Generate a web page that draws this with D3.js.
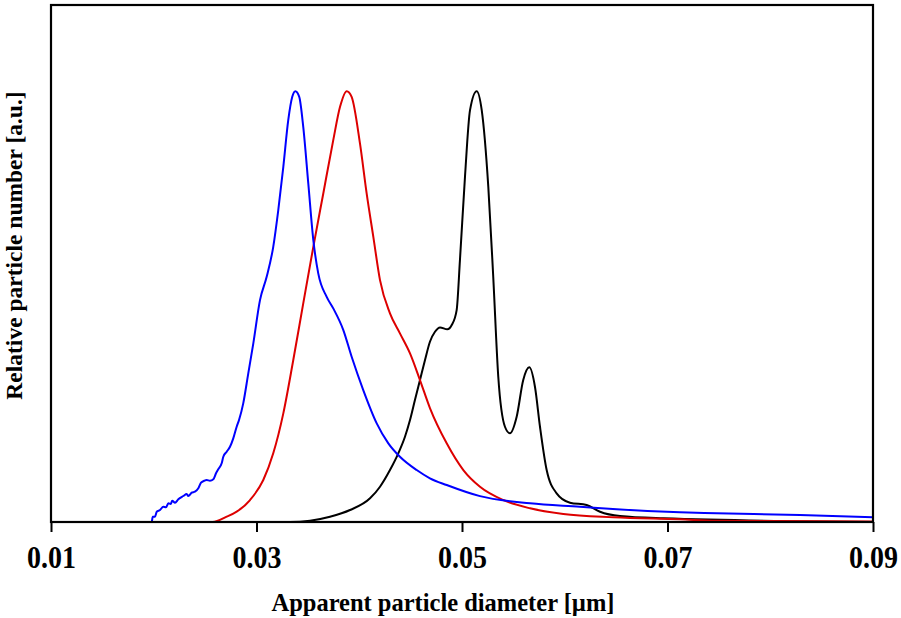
<!DOCTYPE html>
<html>
<head>
<meta charset="utf-8">
<script src="https://cdn.jsdelivr.net/npm/d3@7"></script>
<style>
  body { margin: 0; background: #fff; }
  svg { display: block; }
  text { font-family: "Liberation Serif", "Times New Roman", serif; font-weight: bold; }
</style>
</head>
<body>
<div id="graph"></div>
<script>
// Diameter (µm) and relative number (a.u.)
const blueX = [0.0100, 0.01980, 0.01990, 0.02012, 0.02029, 0.02061, 0.02093, 0.02119, 0.02142, 0.02165,
  0.02180, 0.02207, 0.02239, 0.02288, 0.02321, 0.02336, 0.02369, 0.02401, 0.02434, 0.02460,
  0.02492, 0.02515, 0.02547, 0.02580, 0.02606, 0.02628, 0.02661, 0.02677, 0.02710, 0.02742,
  0.02774, 0.02807, 0.02830, 0.02871, 0.02920, 0.02969, 0.03034, 0.03099, 0.03163, 0.03212,
  0.03261, 0.03309, 0.03348, 0.03378, 0.03416, 0.03455, 0.03504, 0.03553, 0.03601, 0.03683,
  0.03747, 0.03845, 0.03926, 0.04039, 0.04170, 0.04283, 0.04396, 0.04559, 0.04688, 0.04851,
  0.05175, 0.05662, 0.06148, 0.06505, 0.07121, 0.07478, 0.08289, 0.0900];
const blueY = [0, 0, 0.0123, 0.0123, 0.0239, 0.0278, 0.0355, 0.0341, 0.0434, 0.0418,
  0.0494, 0.0448, 0.0527, 0.0603, 0.0650, 0.0603, 0.0680, 0.0703, 0.0782, 0.0912,
  0.0958, 0.0974, 0.0958, 0.0991, 0.1130, 0.1223, 0.1362, 0.1515, 0.1631, 0.1747,
  0.1942, 0.2211, 0.2367, 0.2754, 0.3450, 0.4146, 0.5151, 0.5691, 0.6387, 0.7239,
  0.8244, 0.9327, 0.9868, 1.0000, 0.9868, 0.9172, 0.7858, 0.6543, 0.5770, 0.5227,
  0.4958, 0.4455, 0.3835, 0.3063, 0.2290, 0.1826, 0.1515, 0.1206, 0.1014, 0.0858,
  0.0600, 0.0434, 0.0355, 0.0295, 0.0225, 0.0202, 0.0162, 0.0109];

const redX = [0.0100, 0.02574, 0.02710, 0.02807, 0.02937, 0.03066, 0.03163, 0.03261, 0.03358, 0.03455,
  0.03553, 0.03650, 0.03747, 0.03813, 0.03878, 0.03926, 0.04007, 0.04072, 0.04137, 0.04202,
  0.04299, 0.04396, 0.04494, 0.04591, 0.04688, 0.04851, 0.05013, 0.05175, 0.05402, 0.05662,
  0.05986, 0.06472, 0.07121, 0.07478, 0.0900];
const redY = [0, 0, 0.0123, 0.0239, 0.0510, 0.0974, 0.1594, 0.2522, 0.3759, 0.5074,
  0.6387, 0.7626, 0.8863, 0.9636, 1.0000, 0.9868, 0.8786, 0.7626, 0.6620, 0.5615,
  0.4842, 0.4378, 0.3914, 0.3295, 0.2645, 0.1826, 0.1206, 0.0819, 0.0510, 0.0318,
  0.0186, 0.0109, 0.0063, 0.0030, 0.0010];

const blackX = [0.0100, 0.03326, 0.03521, 0.03715, 0.03910, 0.04105, 0.04202, 0.04299, 0.04380, 0.04445,
  0.04494, 0.04542, 0.04591, 0.04640, 0.04688, 0.04737, 0.04786, 0.04857, 0.04900, 0.04948,
  0.04980, 0.05029, 0.05078, 0.05143, 0.05192, 0.05256, 0.05304, 0.05353, 0.05418, 0.05467,
  0.05532, 0.05596, 0.05655, 0.05710, 0.05759, 0.05824, 0.05921, 0.06051, 0.06213, 0.06343,
  0.06538, 0.06959, 0.0900];
const blackY = [0, 0, 0.0030, 0.0123, 0.0278, 0.0550, 0.0819, 0.1206, 0.1594, 0.1979,
  0.2367, 0.2831, 0.3295, 0.3759, 0.4183, 0.4415, 0.4517, 0.4471, 0.4571, 0.4919,
  0.6079, 0.8012, 0.9559, 1.0000, 0.9559, 0.7780, 0.5691, 0.3371, 0.2211, 0.2058,
  0.2443, 0.3295, 0.3589, 0.3139, 0.2211, 0.1206, 0.0666, 0.0448, 0.0394, 0.0239,
  0.0139, 0.0086, 0];

const xTicks = [0.01, 0.03, 0.05, 0.07, 0.09];

const width = 901;
const height = 618;
const marginTop = 5;
const marginRight = 28;
const marginBottom = 96;
const marginLeft = 51;

const x = d3.scaleLinear()
    .domain([0.01, 0.09])
    .range([marginLeft, width - marginRight]);

const y = d3.scaleLinear()
    .domain([0, 1.2])
    .range([height - marginBottom, marginTop]);

const svg = d3.create("svg")
    .attr("width", width)
    .attr("height", height);

svg.append("rect")
    .attr("width", width)
    .attr("height", height)
    .attr("fill", "#fff");

svg.append("clipPath")
    .attr("id", "plot")
  .append("rect")
    .attr("x", marginLeft)
    .attr("y", marginTop)
    .attr("width", width - marginRight - marginLeft)
    .attr("height", height - marginBottom - marginTop);

const line = d3.line()
    .x(d => x(d[0]))
    .y(d => y(d[1]))
    .curve(d3.curveMonotoneX);

const series = [
  { xs: blackX, ys: blackY, color: "#000000" },
  { xs: redX, ys: redY, color: "#dd0000" },
  { xs: blueX, ys: blueY, color: "#0000ff" }
];

// Bottom axis with outward ticks
const xAxis = d3.axisBottom(x)
    .tickValues(xTicks)
    .tickSize(10)
    .tickSizeOuter(0)
    .tickFormat(d3.format(".2f"));

const gx = svg.append("g")
    .attr("transform", `translate(0,${height - marginBottom})`)
    .call(xAxis);

gx.select(".domain").remove();
gx.selectAll(".tick line")
    .attr("stroke", "#000")
    .attr("stroke-width", 2);
// labels in the picture are a little taller than wide
gx.selectAll(".tick text")
    .attr("y", 46 / 1.1)
    .attr("dy", 0)
    .attr("transform", "scale(1,1.1)")
    .attr("fill", "#000")
    .style("font-size", "28px");

// Curves
svg.append("g")
    .attr("clip-path", "url(#plot)")
  .selectAll("path")
  .data(series)
  .join("path")
    .attr("fill", "none")
    .attr("stroke", d => d.color)
    .attr("stroke-width", 2)
    .attr("stroke-linejoin", "round")
    .attr("d", d => line(d.xs.map((v, i) => [v, d.ys[i]])));

// Frame
svg.append("rect")
    .attr("x", marginLeft)
    .attr("y", marginTop)
    .attr("width", width - marginRight - marginLeft)
    .attr("height", height - marginBottom - marginTop)
    .attr("fill", "none")
    .attr("stroke", "#000")
    .attr("stroke-width", 2.2);

// Axis titles
svg.append("text")
    .attr("transform", "translate(443,611) scale(1,1.07)")
    .attr("text-anchor", "middle")
    .style("font-size", "24.5px")
    .text("Apparent particle diameter [µm]");

svg.append("text")
    .attr("transform", `translate(22,${(marginTop + height - marginBottom) / 2 - 18}) rotate(-90)`)
    .attr("text-anchor", "middle")
    .style("font-size", "23.5px")
    .text("Relative particle number [a.u.]");

document.getElementById("graph").appendChild(svg.node());
</script>
</body>
</html>
